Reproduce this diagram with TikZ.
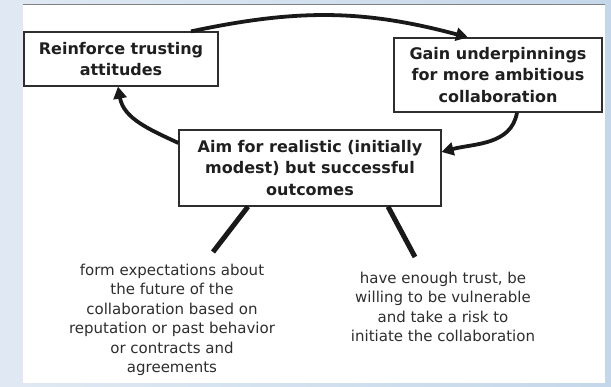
\documentclass[tikz,border=0pt]{standalone}
\usepackage{fontspec}
\setmainfont{DejaVu Sans}
\usetikzlibrary{arrows.meta}

\definecolor{bgleft}{HTML}{E0E9F3}
\definecolor{bgright}{HTML}{C4D7EA}
\definecolor{inkgray}{HTML}{2E2E2E}

\tikzset{
    stepbox/.style={draw=inkgray, line width=1.2pt, fill=white, align=center, inner sep=0pt,
        text=black!88, font=\fontsize{16}{21.5}\selectfont\bfseries},
    cycle arrow/.style={line width=3.8pt, draw=black!90, -{Triangle[length=12pt,width=13pt]}},
    leg/.style={line width=5pt, draw=black!90},
    note/.style={align=center, text=inkgray, font=\fontsize{15}{19.5}\selectfont}
}

\begin{document}
\begin{tikzpicture}[x=1pt, y=-1pt]

    \useasboundingbox (0,0) rectangle (611,387);
    \shade[left color=bgleft, right color=bgright] (0,0) rectangle (611,387);
    \fill[white] (23,4) rectangle (605,383);
    \draw[gray, line width=0.8pt] (23,4) -- (605,4);

    % the three steps of the cycle
    \node[stepbox, minimum width=194pt, minimum height=54pt] (reinforce) at (121,59)
        {Reinforce trusting\\attitudes};
    \node[stepbox, minimum width=208pt, minimum height=74pt] (gain) at (498,75)
        {Gain underpinnings\\for more ambitious\\collaboration};
    \node[stepbox, minimum width=262pt, minimum height=76pt] (aim) at (310,168)
        {Aim for realistic (initially\\modest) but successful\\outcomes};

    \draw[cycle arrow] ([xshift=70pt]reinforce.north) to[out=12, in=165] ([xshift=-30pt]gain.north);
    \draw[cycle arrow] ([xshift=19pt]gain.south) to[out=-100, in=15] ([yshift=16pt]aim.east);
    \draw[cycle arrow] ([yshift=25pt]aim.west) to[out=155, in=-80] ([xshift=-3pt]reinforce.south);

    % what the first step rests on
    \node[note] (expect) at (172,320)
        {form expectations about\\the future of the\\collaboration based on\\reputation or past behavior\\or contracts and\\agreements};
    \node[note] (trust) at (443,307)
        {have enough trust, be\\willing to be vulnerable\\and take a risk to\\initiate the collaboration};

    \coordinate (legL) at (213,252);
    \coordinate (legR) at (415,257);
    \draw[leg] ([xshift=-62pt]aim.south) -- (legL);
    \draw[leg] ([xshift=78pt]aim.south) -- (legR);

\end{tikzpicture}
\end{document}
